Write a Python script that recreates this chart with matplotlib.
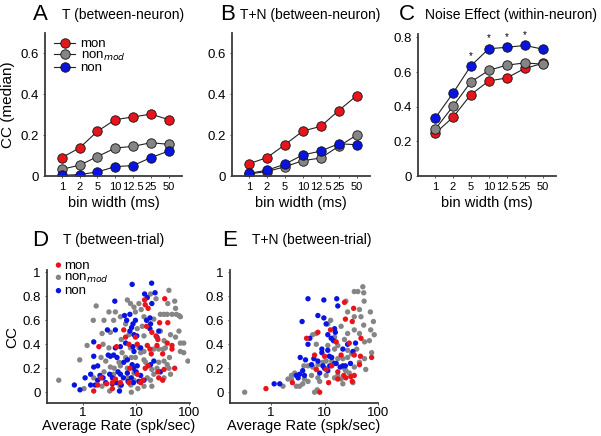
import matplotlib
matplotlib.use("Agg")
import matplotlib.pyplot as plt
import numpy as np

plt.rcParams['font.family'] = ['Liberation Sans', 'DejaVu Sans']

# ── bin-width panels (A, B, C) ──
bin_labels = ['1', '2', '5', '10', '12.5', '25', '50']

a_mon = [0.090, 0.138, 0.219, 0.276, 0.289, 0.303, 0.276]
a_nonmod = [0.033, 0.053, 0.095, 0.137, 0.145, 0.163, 0.155]
a_non = [0.003, 0.007, 0.020, 0.046, 0.051, 0.090, 0.122]

b_mon = [0.060, 0.090, 0.153, 0.220, 0.243, 0.320, 0.393]
b_nonmod = [0.010, 0.022, 0.045, 0.075, 0.088, 0.145, 0.200]
b_non = [0.013, 0.028, 0.058, 0.103, 0.122, 0.158, 0.153]

c_mon = [0.246, 0.339, 0.470, 0.549, 0.566, 0.621, 0.650]
c_nonmod = [0.269, 0.402, 0.543, 0.610, 0.640, 0.653, 0.646]
c_non = [0.333, 0.478, 0.636, 0.735, 0.743, 0.754, 0.733]
c_signif = [False, False, True, True, True, True, False]

# ── between-trial scatter (D, E): rate (spk/sec), CC ──
d_mon_rate = [14.6, 15, 35, 17, 5.9, 6.4, 9.8, 15.9, 20, 28, 40, 24, 26, 2.0, 4.3, 7.4, 10.6,
              16.4, 18.4, 25, 39, 48, 48, 19.5, 32, 7.7, 10.6, 15, 17, 26, 34, 54, 1.9, 2.8,
              2.2, 3.6, 4.1, 5.1, 7.4, 12.3, 13.5, 27, 32, 1.6, 3.6]
d_mon_cc = [0.77, 0.73, 0.78, 0.70, 0.52, 0.46, 0.46, 0.55, 0.50, 0.58, 0.58, 0.47, 0.44, 0.38,
            0.38, 0.40, 0.40, 0.39, 0.36, 0.39, 0.41, 0.39, 0.36, 0.32, 0.32, 0.20, 0.15, 0.20,
            0.22, 0.17, 0.19, 0.20, 0.06, 0.07, 0.12, 0.08, 0.11, 0.08, 0.08, 0.08, 0.10, 0.12,
            0.10, 0.01, 0.03]

d_non_rate = [8.5, 19.8, 4.0, 14.6, 16.4, 20, 23, 6.1, 6.7, 7.7, 8.8, 9.8, 8.3, 2.9, 4.1, 7.7,
              9.2, 10.4, 15.9, 18.4, 18.9, 18.4, 27, 25, 1.6, 4.1, 5.1, 6.4, 8.8, 9.2, 12.3,
              1.6, 3.0, 3.3, 3.8, 4.4, 5.9, 6.9, 8.5, 10.6, 18.9, 21.8, 29, 1.6, 1.9, 1.1, 1.4,
              2.1, 2.4, 3.2, 3.6, 4.6, 5.1, 5.8, 6.9, 8.2, 9.0, 10.1, 12.3, 14.2, 0.69, 0.88,
              1.4, 1.7, 1.9, 2.7, 3.6, 4.3, 4.9, 5.3, 7.1, 9.0, 11.4]
d_non_cc = [0.90, 0.91, 0.76, 0.82, 0.79, 0.74, 0.83, 0.64, 0.60, 0.65, 0.57, 0.60, 0.54, 0.52,
            0.52, 0.51, 0.48, 0.47, 0.60, 0.62, 0.57, 0.53, 0.51, 0.46, 0.42, 0.37, 0.38, 0.41,
            0.38, 0.34, 0.37, 0.30, 0.31, 0.30, 0.31, 0.29, 0.25, 0.27, 0.23, 0.22, 0.23, 0.26,
            0.17, 0.21, 0.22, 0.12, 0.15, 0.14, 0.12, 0.15, 0.12, 0.17, 0.15, 0.12, 0.16, 0.12,
            0.20, 0.17, 0.14, 0.10, 0.06, 0.02, 0.06, 0.06, 0.10, 0.08, 0.07, 0.08, 0.01, 0.06,
            0.09, 0.08, 0.09]

d_nonmod_rate = [0.35, 0.87, 1.57, 1.78, 3.1, 6.9, 7.9, 9.2, 11.4, 12.6, 18.9, 24, 42, 40, 54,
                 29, 34, 39, 48, 58, 65, 69, 56, 4.1, 5.1, 3.8, 2.5, 6.4, 9.8, 14.2, 21.8, 10.6,
                 13.2, 2.3, 3.3, 5.3, 7.4, 14.2, 29, 45, 65, 56, 69, 80, 34, 1.2, 2.4, 3.1, 5.5,
                 7.9, 11.4, 12.3, 14.2, 21.8, 27, 33, 36, 69, 80, 96, 43, 2.2, 2.7, 4.8, 5.1,
                 6.4, 8.2, 9.8, 14.2, 15.2, 27, 34, 39, 42, 3.3, 3.9, 6.9, 9.2, 20, 21.8, 25, 45,
                 1.6, 2.5, 3.8, 6.9, 9.2, 16.4, 18.9, 34, 1.05, 2.3, 3.2, 5.0, 8.0, 10.9, 14.2,
                 20, 8.2]
d_nonmod_cc = [0.10, 0.27, 0.60, 0.72, 0.67, 0.77, 0.74, 0.71, 0.74, 0.69, 0.82, 0.78, 0.85,
               0.74, 0.76, 0.65, 0.65, 0.65, 0.65, 0.65, 0.64, 0.63, 0.70, 0.67, 0.63, 0.60,
               0.60, 0.57, 0.67, 0.63, 0.61, 0.53, 0.55, 0.49, 0.50, 0.44, 0.48, 0.47, 0.51,
               0.48, 0.51, 0.46, 0.41, 0.41, 0.43, 0.39, 0.40, 0.37, 0.33, 0.37, 0.37, 0.33,
               0.34, 0.36, 0.36, 0.36, 0.37, 0.34, 0.33, 0.26, 0.29, 0.29, 0.26, 0.25, 0.22,
               0.29, 0.29, 0.29, 0.27, 0.25, 0.25, 0.26, 0.23, 0.20, 0.21, 0.20, 0.20, 0.16,
               0.19, 0.15, 0.20, 0.15, 0.12, 0.17, 0.15, 0.12, 0.10, 0.12, 0.10, 0.12, 0.03,
               0.05, 0.01, 0.05, 0.06, 0.03, 0.05, 0.05, 0.00]

e_mon_rate = [23.6, 35, 24.6, 33, 7.5, 12.9, 4.6, 16.5, 29, 48, 6.5, 10.0, 20.4, 36, 47, 76,
              7.0, 10.7, 13.6, 17.7, 22.9, 31, 45, 36, 2.5, 0.80, 8.1, 11.9, 17.7, 25, 33]
e_mon_cc = [0.75, 0.70, 0.61, 0.59, 0.50, 0.52, 0.45, 0.42, 0.41, 0.45, 0.31, 0.30, 0.31, 0.31,
            0.30, 0.29, 0.19, 0.19, 0.22, 0.17, 0.14, 0.13, 0.23, 0.14, 0.08, 0.03, 0.00, 0.08,
            0.11, 0.12, 0.09]

e_non_rate = [4.9, 9.7, 16.9, 17.7, 7.5, 9.7, 3.8, 10.7, 15.4, 15.9, 11.5, 13.3, 14.7, 5.3, 4.9,
              38, 27, 8.9, 8.9, 12.3, 13.6, 11.5, 22, 34, 3.5, 4.4, 6.3, 5.7, 7.5, 9.3, 10.0,
              12.5, 16.5, 19.6, 22, 24.5, 30.5, 3.9, 3.4, 3.2, 2.96, 4.2, 1.14, 1.45, 8.1, 11.5,
              15.4]
e_non_cc = [0.78, 0.77, 0.78, 0.72, 0.64, 0.62, 0.59, 0.57, 0.53, 0.50, 0.48, 0.45, 0.43, 0.45,
            0.40, 0.41, 0.40, 0.36, 0.33, 0.30, 0.29, 0.35, 0.36, 0.34, 0.29, 0.27, 0.28, 0.23,
            0.26, 0.22, 0.20, 0.22, 0.24, 0.21, 0.22, 0.22, 0.24, 0.18, 0.15, 0.12, 0.14, 0.14,
            0.07, 0.07, 0.16, 0.18, 0.24]

e_nonmod_rate = [0.32, 1.67, 2.4, 2.96, 3.4, 3.9, 6.5, 7.3, 54, 36, 42, 52, 25, 27, 45, 55, 72,
                 36, 48, 82, 73, 54, 36, 45, 27, 20.4, 11.5, 13, 6.0, 7.0, 15.4, 56, 69, 85,
                 23.6, 27, 17.7, 15.4, 11.5, 7.0, 32, 40, 56, 76, 59, 45, 27, 22, 17.7, 13.6,
                 10.7, 4.1, 4.9, 6.0, 7.5, 9.3, 2.76, 2.07, 2.4, 5.7, 7.5, 10.7, 15.4, 17.7,
                 20.4, 25, 29, 36, 4.2, 4.9, 8.1, 24, 34, 22]
e_nonmod_cc = [0.00, 0.05, 0.11, 0.05, 0.05, 0.07, 0.00, 0.02, 0.83, 0.84, 0.84, 0.88, 0.76,
               0.67, 0.69, 0.76, 0.67, 0.63, 0.63, 0.59, 0.52, 0.56, 0.52, 0.49, 0.49, 0.55,
               0.57, 0.60, 0.48, 0.49, 0.46, 0.42, 0.43, 0.48, 0.44, 0.35, 0.39, 0.36, 0.39,
               0.40, 0.32, 0.36, 0.28, 0.33, 0.19, 0.25, 0.29, 0.28, 0.28, 0.26, 0.26, 0.22,
               0.22, 0.21, 0.23, 0.25, 0.16, 0.11, 0.14, 0.14, 0.12, 0.14, 0.12, 0.14, 0.11,
               0.18, 0.16, 0.21, 0.11, 0.09, 0.09, 0.19, 0.08, 0.07]

RED = '#e8141c'
GREY = '#858585'
BLUE = '#0a14e0'
AXC = '#3a3a3a'

fig = plt.figure(figsize=(6.01, 4.36), dpi=100)


def px_ax(l, r, t, b):
    return fig.add_axes([l / 601, 1 - b / 436, (r - l) / 601, (b - t) / 436])


def style(ax):
    for s in ('top', 'right'):
        ax.spines[s].set_visible(False)
    for s in ('left', 'bottom'):
        ax.spines[s].set_color(AXC)
        ax.spines[s].set_linewidth(1.3)
    ax.tick_params(length=1.5, width=0.6, color=AXC, labelsize=9.5, pad=3)


def line_panel(ax, mon, nonmod, non, ylim, yticks):
    x = np.arange(1, len(bin_labels) + 1)
    kw = dict(color='#222222', lw=0.8, marker='o', ms=6.8, mec='#111111', mew=0.6)
    ax.plot(x, mon, mfc=RED, label='mon', **kw)
    ax.plot(x, nonmod, mfc=GREY, label='non$_{mod}$', **kw)
    ax.plot(x, non, mfc=BLUE, label='non', **kw)
    ax.set_xticks(x)
    ax.set_xticklabels(bin_labels)
    ax.set_xlim(0.05, 7.75)
    ax.set_ylim(*ylim)
    ax.set_yticks(yticks)
    ax.set_yticklabels(['0' if v == 0 else f'{v:.1f}' for v in yticks])
    ax.set_xlabel('bin width (ms)', fontsize=10.5, labelpad=3)
    style(ax)
    ax.tick_params(axis='x', labelsize=8)


axA = px_ax(45, 182, 33, 176)
line_panel(axA, a_mon, a_nonmod, a_non, (0, 0.70), [0, 0.2, 0.4, 0.6])
axA.set_ylabel('CC (median)', fontsize=11, labelpad=4)
axA.legend(loc='upper left', bbox_to_anchor=(0.0, 1.03), frameon=False, fontsize=9.5,
           handlelength=1.6, handletextpad=0.4, labelspacing=-0.05, borderaxespad=0.3)

axB = px_ax(232, 370, 33, 176)
line_panel(axB, b_mon, b_nonmod, b_non, (0, 0.70), [0, 0.2, 0.4, 0.6])

axC = px_ax(418, 556, 34, 176)
line_panel(axC, c_mon, c_nonmod, c_non, (0, 0.82), [0, 0.2, 0.4, 0.6, 0.8])
for i, sig in enumerate(c_signif):
    if sig:
        axC.text(i + 1, c_non[i] + 0.03, '*', ha='center', va='bottom', fontsize=7)


def scatter_panel(ax, groups, xlim):
    for rate, cc, col in groups:
        ax.scatter(rate, cc, s=15, color=col, edgecolors='none')
    ax.set_xscale('log')
    ax.set_xlim(*xlim)
    ax.set_ylim(-0.09, 1.02)
    ax.set_xticks([1, 10, 100])
    ax.set_xticklabels(['1', '10', '100'])
    ax.minorticks_off()
    ax.set_yticks([0, 0.2, 0.4, 0.6, 0.8, 1])
    ax.set_yticklabels(['0', '0.2', '0.4', '0.6', '0.8', '1'])
    style(ax)
    ax.tick_params(axis='x', pad=1.5)
    ax.set_xlabel('Average Rate (spk/sec)', fontsize=10.5, labelpad=0)


axD = px_ax(47, 190, 270, 403)
scatter_panel(axD, [(d_nonmod_rate, d_nonmod_cc, GREY), (d_non_rate, d_non_cc, BLUE),
                    (d_mon_rate, d_mon_cc, RED)], (0.21, 105))
axD.set_ylabel('CC', fontsize=11, labelpad=2)
h = [axD.scatter([], [], s=15, color=c, edgecolors='none') for c in (RED, GREY, BLUE)]
axD.legend(h, ['mon', 'non$_{mod}$', 'non'], loc='upper left', bbox_to_anchor=(0.02, 1.12),
           frameon=False, fontsize=9.5, handlelength=0.5, handletextpad=0.2,
           labelspacing=0.0, borderaxespad=0.0)

axE = px_ax(230, 378, 270, 403)
scatter_panel(axE, [(e_nonmod_rate, e_nonmod_cc, GREY), (e_non_rate, e_non_cc, BLUE),
                    (e_mon_rate, e_mon_cc, RED)], (0.17, 100))

# panel letters and titles
for lx, tx, y, letter, title in [(33, 62, 15, 'A', 'T (between-neuron)'),
                                 (220, 240, 15, 'B', 'T+N (between-neuron)'),
                                 (399, 425, 15, 'C', 'Noise Effect (within-neuron)'),
                                 (32, 63, 240, 'D', 'T (between-trial)'),
                                 (222, 252, 240, 'E', 'T+N (between-trial)')]:
    fig.text(lx / 601, 1 - y / 436, letter, fontsize=16, ha='left', va='center')
    fig.text(tx / 601, 1 - y / 436, title, fontsize=10, ha='left', va='center')

plt.savefig('out.png', dpi=100)
